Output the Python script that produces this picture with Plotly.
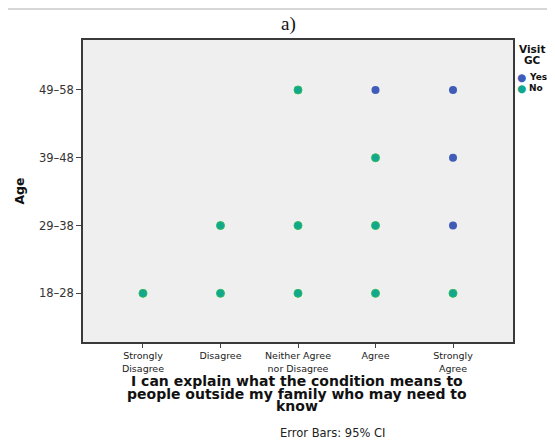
import plotly.graph_objects as go

# ---- data ----
categories = ["Strongly<br>Disagree", "Disagree", "Neither Agree<br>nor Disagree", "Agree", "Strongly<br>Agree"]
age_groups = ["18–28", "29–38", "39–48", "49–58"]

yes_response = ["Agree", "Strongly<br>Agree", "Strongly<br>Agree", "Strongly<br>Agree"]
yes_age = ["49–58", "49–58", "39–48", "29–38"]

no_response = ["Strongly<br>Disagree", "Disagree", "Neither Agree<br>nor Disagree", "Agree", "Strongly<br>Agree",
               "Disagree", "Neither Agree<br>nor Disagree", "Agree",
               "Agree",
               "Neither Agree<br>nor Disagree"]
no_age = ["18–28", "18–28", "18–28", "18–28", "18–28",
          "29–38", "29–38", "29–38",
          "39–48",
          "49–58"]

x_title_lines = ["I can explain what the condition means to",
                 "people outside my family who may need to",
                 "know"]
legend_title_lines = ["Visit", "GC"]
legend_names = ["Yes", "No"]

BLUE = "#3f5cb8"
GREEN_FILL = "#12a88f"
GREEN_EDGE = "#2dbb5c"
FONT = "DejaVu Sans"

# The page body has an 8px margin: the figure starts at (8, 8) in the screenshot.
OFF = 8
FIG_W, FIG_H = 555 - 2 * OFF, 447 - 2 * OFF
# plot-area geometry in screenshot pixels
L, R, T, B = 83, 513, 40, 342
W, H = R - L, B - T


def px_x(p):
    return (p - L) / W


def px_y(p):
    return (B - p) / H


fig = go.Figure()
fig.add_trace(go.Scatter(
    x=yes_response, y=yes_age, mode="markers", name=legend_names[0],
    marker=dict(size=8, color=BLUE, line=dict(width=0)),
))
fig.add_trace(go.Scatter(
    x=no_response, y=no_age, mode="markers", name=legend_names[1],
    marker=dict(size=8, color=GREEN_FILL, line=dict(width=1, color=GREEN_EDGE)),
))

annotations = []
# panel label
annotations.append(dict(text="a)", xref="paper", yref="paper", x=px_x(288), y=px_y(24),
                        xanchor="center", yanchor="middle", showarrow=False,
                        font=dict(family="Liberation Serif", size=19, color="#111")))
# x-axis title (tight line spacing like the reference)
for i, line in enumerate(x_title_lines):
    annotations.append(dict(text=f"<b>{line}</b>", xref="paper", yref="paper",
                            x=px_x(297), y=px_y(381 + 12.5 * i), xanchor="center", yanchor="middle",
                            showarrow=False, font=dict(size=14, family=FONT, color="#111")))
# error bar note
annotations.append(dict(text="Error Bars: 95% CI", xref="paper", yref="paper",
                        x=px_x(333), y=px_y(433), xanchor="center", yanchor="middle",
                        showarrow=False, font=dict(size=11.5, family=FONT, color="#222")))
# legend (compact, like the reference)
for i, line in enumerate(legend_title_lines):
    annotations.append(dict(text=f"<b>{line}</b>", xref="paper", yref="paper",
                            x=px_x(532), y=px_y(49 + 11 * i), xanchor="center", yanchor="middle",
                            showarrow=False, font=dict(size=10.5, family=FONT, color="#111")))
for i, (name, col) in enumerate(zip(legend_names, [BLUE, GREEN_FILL])):
    yy = px_y(77 + 11 * i)
    annotations.append(dict(text="●", xref="paper", yref="paper", x=px_x(521), y=yy,
                            xanchor="center", yanchor="middle", showarrow=False,
                            font=dict(size=10.5, family=FONT, color=col)))
    annotations.append(dict(text=f"<b>{name}</b>", xref="paper", yref="paper", x=px_x(526.5), y=yy,
                            xanchor="left", yanchor="middle", showarrow=False,
                            font=dict(size=9, family=FONT, color="#111")))

fig.update_layout(
    width=FIG_W, height=FIG_H,
    margin=dict(l=L - OFF, r=FIG_W - (R - OFF), t=T - OFF, b=FIG_H - (B - OFF), autoexpand=False),
    paper_bgcolor="white",
    plot_bgcolor="#efefef",
    font=dict(family=FONT, color="#222"),
    showlegend=False,
    xaxis=dict(
        type="category", categoryorder="array", categoryarray=categories,
        range=[-0.774, 4.774], automargin=False,
        showgrid=False, zeroline=False,
        showline=True, linecolor="#3a3a3a", linewidth=1.5, mirror=True,
        ticks="outside", ticklen=4, tickcolor="#444", tickwidth=1,
        tickfont=dict(size=9.5, family=FONT, color="#222"),
    ),
    yaxis=dict(
        type="category", categoryorder="array", categoryarray=age_groups,
        range=[-0.718, 3.737], automargin=False,
        showgrid=False, zeroline=False,
        showline=True, linecolor="#3a3a3a", linewidth=1.5, mirror=True,
        ticks="outside", ticklen=5, tickcolor="#444", tickwidth=1,
        tickfont=dict(size=11.5, family=FONT, color="#333"),
        title=dict(text="<b>Age</b>", font=dict(size=12.5, family=FONT, color="#111"), standoff=12),
    ),
    annotations=annotations,
    shapes=[
        dict(type="line", xref="paper", yref="paper",
             x0=px_x(OFF), x1=px_x(555), y0=px_y(OFF + 1), y1=px_y(OFF + 1),
             line=dict(color="#d6d6d6", width=2)),
    ],
)

fig.write_html("out.html")
